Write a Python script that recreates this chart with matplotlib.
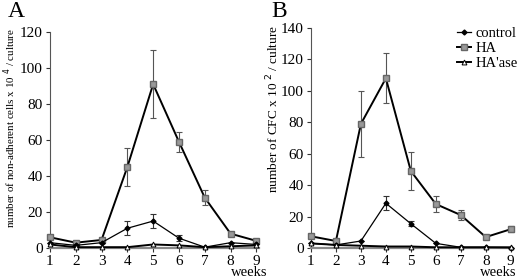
import matplotlib
matplotlib.use('Agg')
import matplotlib.pyplot as plt
from matplotlib.lines import Line2D

plt.rcParams['font.family'] = ['Liberation Serif', 'DejaVu Serif']

weeks = [1, 2, 3, 4, 5, 6, 7, 8, 9]

# panel A: non-adherent cells x 10^4 / culture
a_control = [3, 1.5, 3, 11, 15, 5.5, 0.5, 3, 2]
a_control_err = [0, 0, 0, 4, 4, 1.5, 0, 0, 0]
a_ha = [6, 3, 4.5, 45, 91, 59, 28, 8, 4]
a_ha_err = [0, 0, 0, 10.5, 19, 5.5, 4, 0, 0]
a_hase = [2, 0.5, 0.5, 0.5, 2, 1.5, 0.5, 1, 1.5]

# panel B: CFC x 10^2 / culture
b_control = [3, 2, 4.5, 28.5, 15.5, 3, 0.5, 0.5, 0.3]
b_control_err = [0, 0, 0, 4.5, 1.5, 0, 0, 0, 0]
b_ha = [7.5, 4.5, 79, 108, 49, 28, 21, 7, 12]
b_ha_err = [0, 0, 21, 16, 12, 5, 3, 0, 2]
b_hase = [3, 2, 1.5, 1, 1, 0.5, 0.5, 0.5, 0.5]

fig = plt.figure(figsize=(5.2, 2.8), dpi=100)
axA = fig.add_axes([0.096, 0.114, 0.402, 0.772])
axB = fig.add_axes([0.598, 0.114, 0.389, 0.786])

ha_style = dict(color='black', lw=1.4, marker='s', ms=4, mfc='#999999', mec='#666666')
ctrl_style = dict(color='black', lw=0.9, marker='D', ms=2.5, mfc='black', mec='black')
hase_style = dict(color='black', lw=1.4, marker='^', ms=3.5, mfc='white', mec='black', mew=0.7)


def panel(ax, ctrl, ctrl_err, ha, ha_err, hase, ymax, ylabel, lsize):
    ax.errorbar(weeks, ha, yerr=ha_err, ecolor='#555555', elinewidth=0.8,
                capsize=2.5, capthick=0.8, zorder=3, **ha_style)
    ax.errorbar(weeks, ctrl, yerr=ctrl_err, ecolor='#333333', elinewidth=0.8,
                capsize=2.5, capthick=0.8, zorder=4, **ctrl_style)
    ax.plot(weeks, hase, zorder=5, **hase_style)
    ax.set_xlim(1, 9.1)
    ax.set_ylim(0, ymax)
    ax.set_xticks(weeks)
    ax.set_yticks(range(0, ymax + 1, 20))
    ax.spines['top'].set_visible(False)
    ax.spines['right'].set_visible(False)
    ax.spines['bottom'].set_color('#888888')
    ax.spines['bottom'].set_linewidth(1.6)
    ax.spines['left'].set_color('#555555')
    ax.tick_params(labelsize=11, length=3, width=0.8, colors='#333333',
                   labelcolor='black', pad=2)
    ax.set_ylabel(ylabel, fontsize=lsize)
    for artist in ax.lines + ax.collections:
        artist.set_clip_on(False)


panel(axA, a_control, a_control_err, a_ha, a_ha_err, a_hase, 120,
      'number of non-adherent cells x 10 $^4$ / culture', 7.9)
panel(axB, b_control, b_control_err, b_ha, b_ha_err, b_hase, 140,
      'number of CFC x 10 $^2$ / culture', 9.5)
axA.yaxis.set_label_coords(-0.155, 0.556)
axB.yaxis.set_label_coords(-0.145, 0.632)

fig.text(0.514, 0.002, 'weeks', ha='right', va='bottom', fontsize=10.5)
fig.text(0.994, 0.002, 'weeks', ha='right', va='bottom', fontsize=10.5)

fig.text(0.015, 0.995, 'A', fontsize=17, va='top')
fig.text(0.522, 0.995, 'B', fontsize=17, va='top')

handles = [Line2D([], [], **ctrl_style), Line2D([], [], **ha_style),
           Line2D([], [], **hase_style)]
fig.legend(handles, ['control', 'HA', "HA'ase"], loc='upper left',
           bbox_to_anchor=(0.878, 0.903), frameon=False, fontsize=10.5,
           handlelength=1.0, handletextpad=0.3, labelspacing=0.1,
           borderaxespad=0.0, borderpad=0.0)

plt.savefig('out.png', dpi=100)
